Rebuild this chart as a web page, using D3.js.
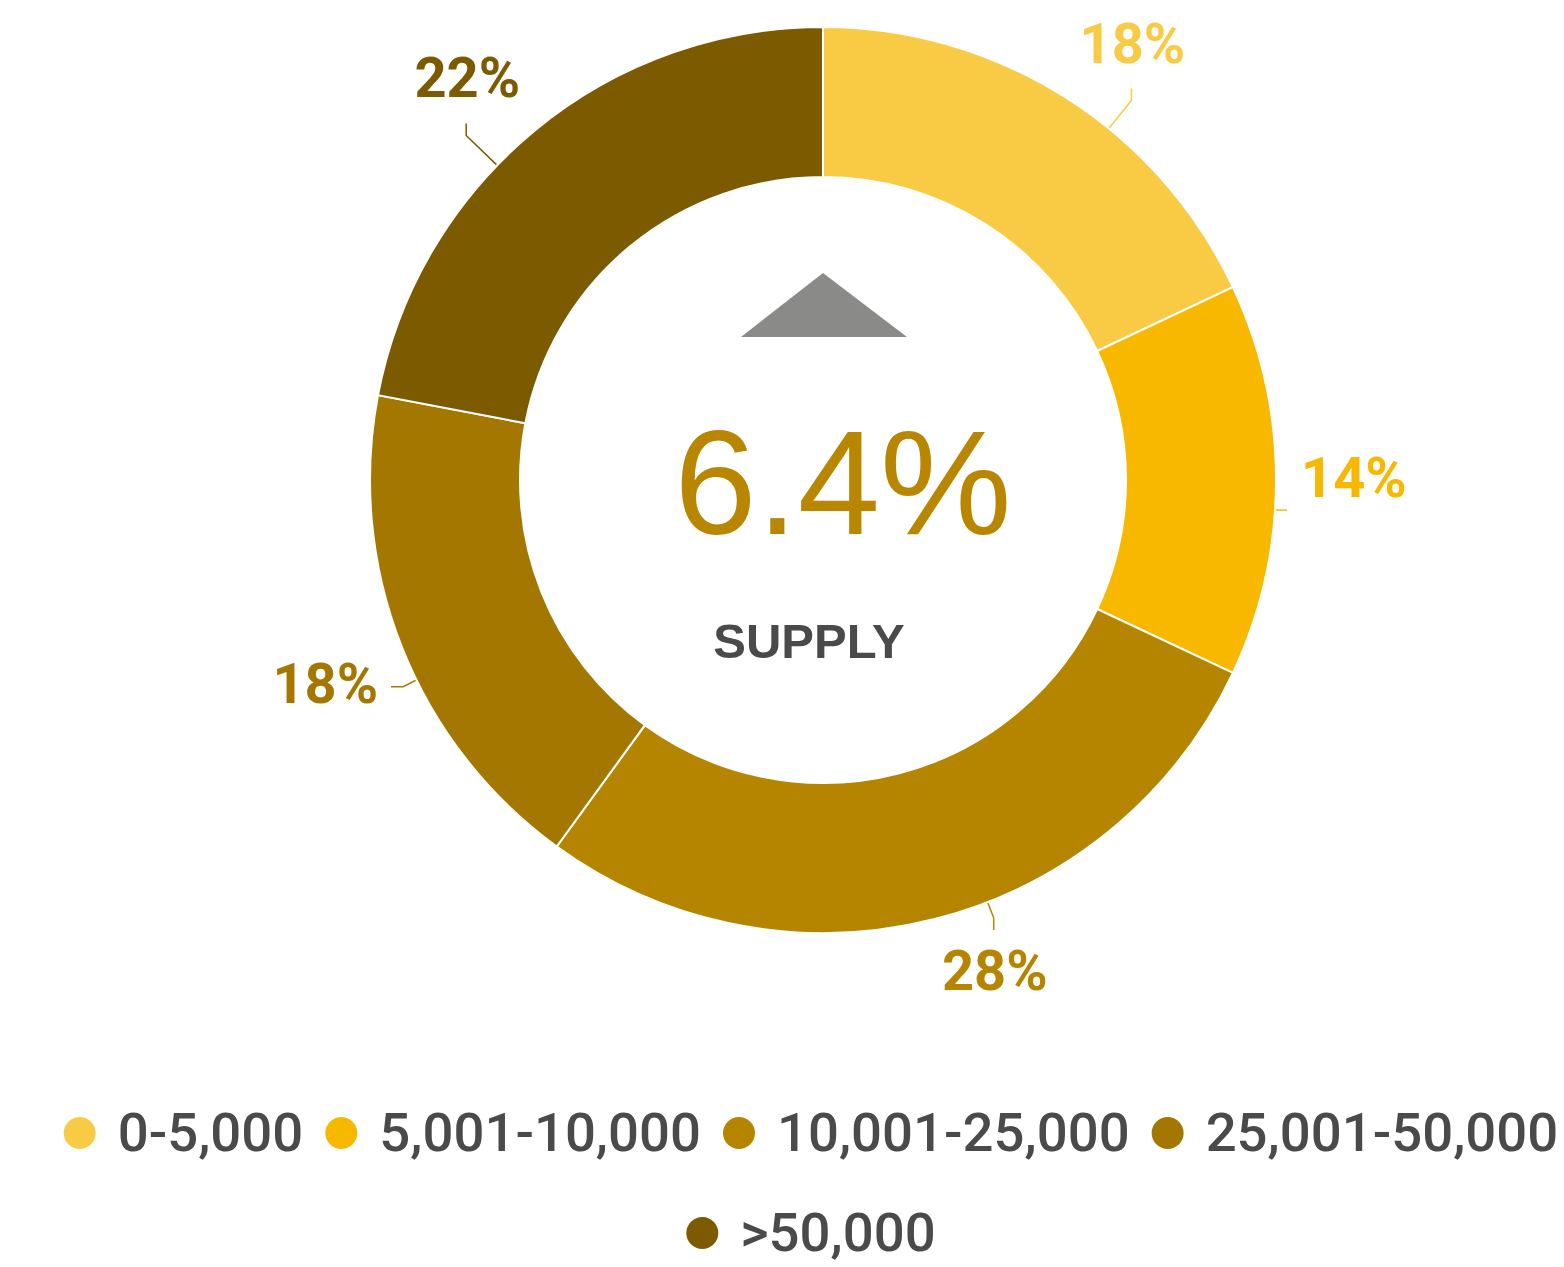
<!DOCTYPE html>
<html>
<head>
<meta charset="utf-8">
<script src="https://cdn.jsdelivr.net/npm/d3@7"></script>
<style>
  body { margin: 0; background: #fff; }
</style>
</head>
<body>
<script>
// data
const categories = ["0-5,000", "5,001-10,000", "10,001-25,000", "25,001-50,000", ">50,000"];
const shares = [18, 14, 28, 18, 22];
const colors = ["#F9CB45", "#F9B800", "#B58500", "#A47800", "#7B5A00"];
const centerValue = "6.4%";
const centerLabel = "SUPPLY";

const w = 1564;
const h = 1267;
const cx = 823, cy = 480;
const outerR = 453, innerR = 303;

// label placement (angle nudge in degrees, connector length, side)
const labelNudge = [6.7, 3.8, -6.9, -4.6, -6.4];
const labelExt = [35, 0, 16, 14, 42];
const labelSide = ["up", "right", "down", "left", "up"];

const svg = d3.select("body")
  .append("svg")
  .attr("width", w)
  .attr("height", h);

const data = categories.map((c, i) => ({ name: c, value: shares[i], color: colors[i] }));

const pie = d3.pie()
  .sort(null)
  .value(d => d.value);

const arc = d3.arc()
  .innerRadius(innerR)
  .outerRadius(outerR);

const g = svg.append("g")
  .attr("transform", `translate(${cx},${cy})`);

const arcs = pie(data);

g.selectAll("path.slice")
  .data(arcs)
  .join("path")
  .attr("class", "slice")
  .attr("d", arc)
  .attr("fill", d => d.data.color)
  .attr("stroke", "#fff")
  .attr("stroke-width", 2);

// connectors + labels
const polar = (a, r) => [Math.sin(a) * r, -Math.cos(a) * r];

arcs.forEach((d, i) => {
  const a = (d.startAngle + d.endAngle) / 2 + labelNudge[i] * Math.PI / 180;
  const p0 = polar(a, outerR + 1);
  const p1 = polar(a, outerR + 1 + labelExt[i]);
  const side = labelSide[i];
  let p2, tx, ty, anchor;
  if (side === "up") {
    p2 = [p1[0], p1[1] - 12]; tx = p2[0] + 1; ty = p2[1] - 26; anchor = "middle";
  } else if (side === "down") {
    p2 = [p1[0], p1[1] + 12]; tx = p2[0] + 1; ty = p2[1] + 60; anchor = "middle";
  } else if (side === "right") {
    p2 = [p1[0] + 11, p1[1]]; tx = p2[0] + 14; ty = p2[1] - 13; anchor = "start";
  } else {
    p2 = [p1[0] - 12, p1[1]]; tx = p2[0] - 13; ty = p2[1] + 16; anchor = "end";
  }

  g.append("path")
    .attr("d", d3.line()([p0, p1, p2]))
    .attr("fill", "none")
    .attr("stroke", d.data.color)
    .attr("stroke-width", 1.5);

  g.append("text")
    .attr("x", tx)
    .attr("y", ty)
    .attr("text-anchor", anchor)
    .style("font-family", "Roboto, sans-serif")
    .style("font-weight", "bold")
    .style("font-size", "56px")
    .style("fill", d.data.color)
    .text(d.data.value + "%");
});

// center: up arrow, value, label
g.append("path")
  .attr("d", d3.line()([[0, -207], [84, -143], [-82, -143]]) + "Z")
  .attr("fill", "#8A8B89");

g.append("text")
  .attr("x", 20)
  .attr("y", 54)
  .attr("text-anchor", "middle")
  .style("font-family", "'Liberation Sans', Arial, sans-serif")
  .style("font-size", "148px")
  .style("fill", "#B88600")
  .text(centerValue);

g.append("text")
  .attr("x", -14)
  .attr("y", 178)
  .attr("text-anchor", "middle")
  .style("font-family", "'Liberation Sans', Arial, sans-serif")
  .style("font-weight", "bold")
  .style("font-size", "49px")
  .style("fill", "#4a4a4a")
  .text(centerLabel);

// legend
const legendRows = [[0, 1, 2, 3], [4]];
const legendCenter = 811;
const rowY = [1133, 1233];
const dotR = 16, dotGap = 22, itemGap = 22;

legendRows.forEach((row, ri) => {
  const lg = svg.append("g");
  const items = row.map(i => {
    const it = lg.append("g");
    it.append("circle")
      .attr("r", dotR)
      .attr("cx", dotR)
      .attr("cy", 0)
      .attr("fill", colors[i]);
    const t = it.append("text")
      .attr("x", dotR * 2 + dotGap)
      .attr("y", 18)
      .style("font-family", "Roboto, sans-serif")
      .style("font-weight", "500")
      .style("font-size", "54.5px")
      .style("fill", "#4a4a4a")
      .text(categories[i]);
    return { it, width: dotR * 2 + dotGap + t.node().getComputedTextLength() };
  });
  const total = d3.sum(items, d => d.width) + itemGap * (items.length - 1);
  let x = legendCenter - total / 2;
  items.forEach(d => {
    d.it.attr("transform", `translate(${x},${rowY[ri]})`);
    x += d.width + itemGap;
  });
});
</script>
</body>
</html>
